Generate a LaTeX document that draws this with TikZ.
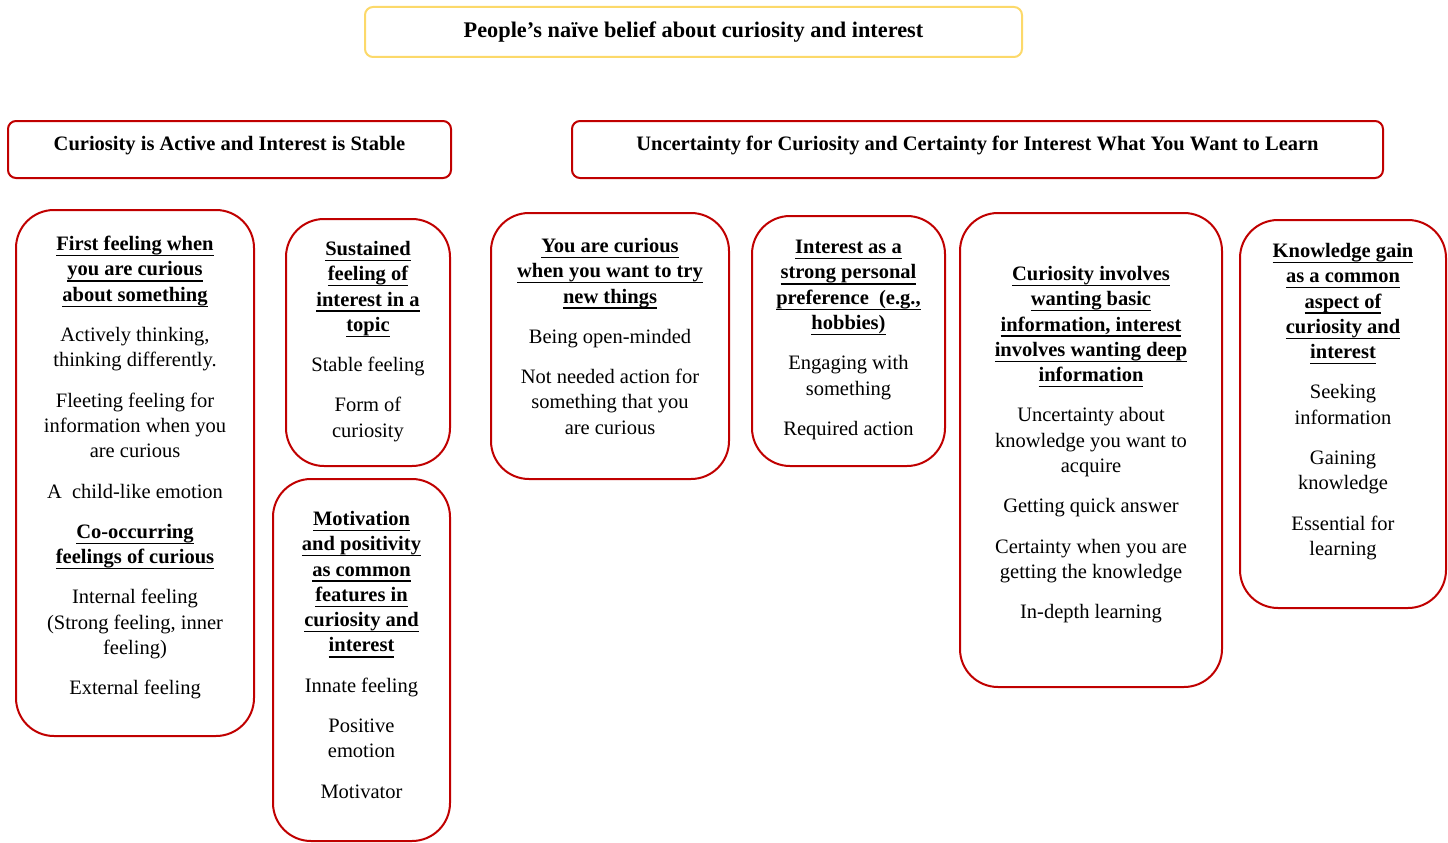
\documentclass[tikz,border=0pt]{standalone}
\usepackage{fontspec}
\setmainfont{Liberation Serif}
\usetikzlibrary{positioning}
\definecolor{boxred}{HTML}{C00000}
\definecolor{boxgold}{HTML}{FCD96A}
\newcommand{\hd}[1]{\sbox0{#1}\rlap{\rule[-5.6pt]{\wd0}{1.2pt}}\usebox0}

\begin{document}
\begin{tikzpicture}[x=1pt, y=-1pt, node distance=20pt,
        top/.style={rectangle, draw=boxgold, line width=2pt, rounded corners=8pt, font=\fontsize{22.3}{26}\selectfont\bfseries},
        head/.style={rectangle, draw=boxred, line width=2pt, rounded corners=8pt, text depth=12pt, font=\fontsize{20.5}{25.3}\selectfont\bfseries},
        card/.style={rectangle, draw=boxred, line width=2pt, rounded corners=38pt},
        txt/.style={inner sep=0pt, align=center, font=\fontsize{20.5}{25.3}\selectfont}]
        \useasboundingbox (0,0) rectangle (1448,843);

        % Headers
        \node[top, minimum width=657pt, minimum height=50pt] (root) at (693.5,32) {People’s naïve belief about curiosity and interest};
        \node[head, minimum width=443pt, minimum height=57pt] (active) at (229.5,149.5) {Curiosity is Active and Interest is Stable};
        \node[head, minimum width=811pt, minimum height=57pt] (certain) at (977.5,149.5) {Uncertainty for Curiosity and Certainty for Interest What You Want to Learn};

        % Cards
        \node[card, minimum width=238pt, minimum height=526pt] (first) at (135,473) {};
        \node[card, minimum width=164pt, minimum height=247pt] (sustained) at (368,342.5) {};
        \node[card, minimum width=177pt, minimum height=362pt] (motiv) at (361.5,660) {};
        \node[card, minimum width=238pt, minimum height=266pt] (newthings) at (610,346) {};
        \node[card, minimum width=193pt, minimum height=250pt] (prefer) at (848.5,341) {};
        \node[card, minimum width=262pt, minimum height=474pt] (basic) at (1091,450) {};
        \node[card, minimum width=206pt, minimum height=388pt] (gain) at (1343,414) {};

        % Texts
        \node[txt, below=27pt of first.north] (firstT) {\textbf{\hd{First feeling when}}\\\textbf{\hd{you are curious}}\\\textbf{\hd{about something}}\\[15pt]
            Actively thinking,\\thinking differently.\\[15pt]
            Fleeting feeling for\\information when you\\are curious\\[15pt]
            A\ \ child-like emotion\\[15pt]
            \textbf{\hd{Co-occurring}}\\\textbf{\hd{feelings of curious}}\\[15pt]
            Internal feeling\\(Strong feeling, inner\\feeling)\\[15pt]
            External feeling};
        \node[txt, below=23pt of sustained.north] (sustainedT) {\textbf{\hd{Sustained}}\\\textbf{\hd{feeling of}}\\\textbf{\hd{interest in a}}\\\textbf{\hd{topic}}\\[15pt]
            Stable feeling\\[15pt]
            Form of\\curiosity};
        \node[txt, below=33pt of motiv.north] (motivT) {\textbf{\hd{Motivation}}\\\textbf{\hd{and positivity}}\\\textbf{\hd{as common}}\\\textbf{\hd{features in}}\\\textbf{\hd{curiosity and}}\\\textbf{\hd{interest}}\\[15pt]
            Innate feeling\\[15pt]
            Positive\\emotion\\[15pt]
            Motivator};
        \node[txt, below=26pt of newthings.north] (newthingsT) {\textbf{\hd{You are curious}}\\\textbf{\hd{when you want to try}}\\\textbf{\hd{new things}}\\[15pt]
            Being open-minded\\[15pt]
            Not needed action for\\something that you\\are curious};
        \node[txt, below=25pt of prefer.north] (preferT) {\textbf{\hd{Interest as a}}\\\textbf{\hd{strong personal}}\\\textbf{\hd{preference\ \ (e.g.,}}\\\textbf{\hd{hobbies)}}\\[15pt]
            Engaging with\\something\\[15pt]
            Required action};
        \node[txt, below=54pt of basic.north] (basicT) {\textbf{\hd{Curiosity involves}}\\\textbf{\hd{wanting basic}}\\\textbf{\hd{information, interest}}\\\textbf{\hd{involves wanting deep}}\\\textbf{\hd{information}}\\[15pt]
            Uncertainty about\\knowledge you want to\\acquire\\[15pt]
            Getting quick answer\\[15pt]
            Certainty when you are\\getting the knowledge\\[15pt]
            In-depth learning};
        \node[txt, below=24pt of gain.north] (gainT) {\textbf{\hd{Knowledge gain}}\\\textbf{\hd{as a common}}\\\textbf{\hd{aspect of}}\\\textbf{\hd{curiosity and}}\\\textbf{\hd{interest}}\\[15pt]
            Seeking\\information\\[15pt]
            Gaining\\knowledge\\[15pt]
            Essential for\\learning};
    \end{tikzpicture}
\end{document}
